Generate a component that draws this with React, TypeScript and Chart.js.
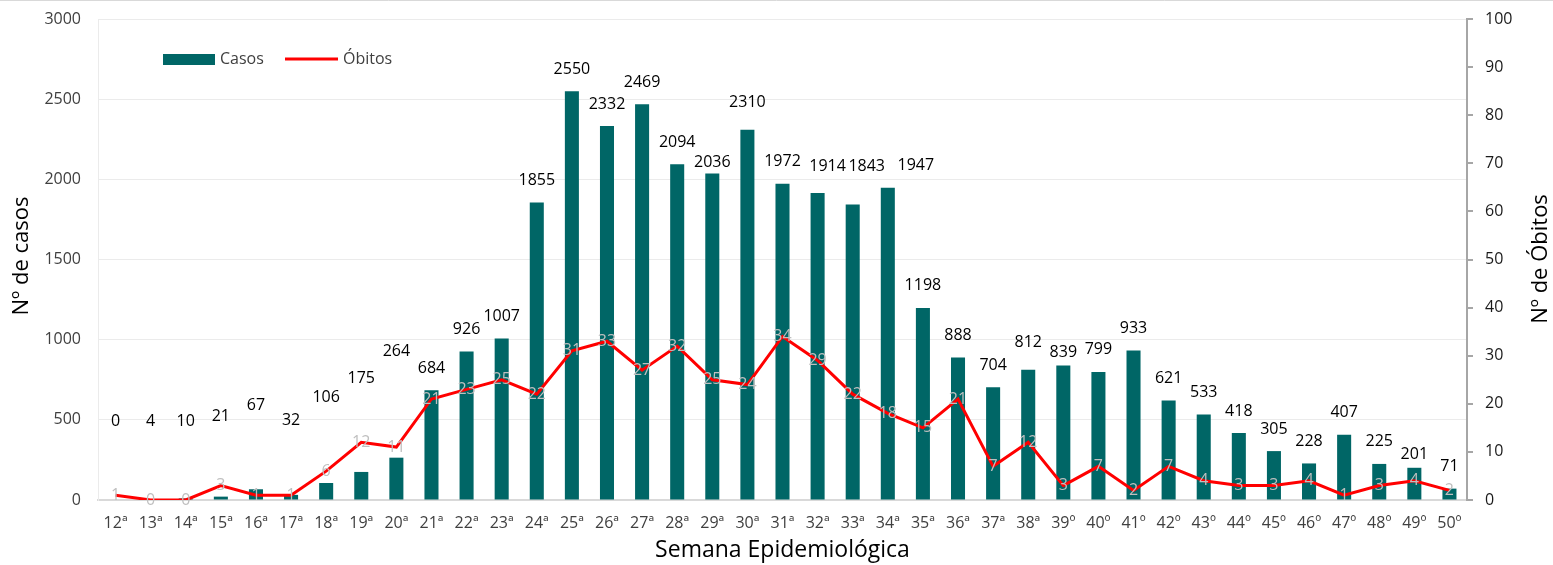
import React, { useEffect, useRef } from 'react';
import { Chart, registerables } from 'chart.js';

Chart.register(...registerables);

const weeks = [
  '12ª', '13ª', '14ª', '15ª', '16ª', '17ª', '18ª', '19ª', '20ª', '21ª',
  '22ª', '23ª', '24ª', '25ª', '26ª', '27ª', '28ª', '29ª', '30ª', '31ª',
  '32ª', '33ª', '34ª', '35ª', '36ª', '37ª', '38ª', '39º', '40º', '41º',
  '42º', '43º', '44º', '45º', '46º', '47º', '48º', '49º', '50º',
];

const casos = [
  0, 4, 10, 21, 67, 32, 106, 175, 264, 684,
  926, 1007, 1855, 2550, 2332, 2469, 2094, 2036, 2310, 1972,
  1914, 1843, 1947, 1198, 888, 704, 812, 839, 799, 933,
  621, 533, 418, 305, 228, 407, 225, 201, 71,
];

const obitos = [
  1, 0, 0, 3, 1, 1, 6, 12, 11, 21,
  23, 25, 22, 31, 33, 27, 32, 25, 24, 34,
  29, 22, 18, 15, 21, 7, 12, 3, 7, 2,
  7, 4, 3, 3, 4, 1, 3, 4, 2,
];

const FONT = '"Open Sans", sans-serif';
const TEAL = '#006666';
const RED = '#ff0000';

// label lift (px above bar top) for manually placed labels in the original
const barLabelLift: Record<number, number> = {
  0: 79, 1: 78, 2: 77, 3: 80, 4: 84, 5: 74, 6: 86, 7: 94, 8: 106,
  17: 11, 18: 27, 20: 27, 21: 38, 26: 27, 27: 13, 37: 13,
};
// horizontal nudges of manually moved labels
const barLabelNudge: Record<number, number> = { 20: 10, 21: 14, 22: 28 };
const DEFAULT_LIFT = 22;

const overlay = {
  id: 'overlay',
  beforeDraw(chart: any) {
    const ctx = chart.ctx;
    ctx.save();
    ctx.fillStyle = '#ffffff';
    ctx.fillRect(0, 0, chart.width, chart.height);
    ctx.strokeStyle = '#d9d9d9';
    ctx.lineWidth = 1;
    ctx.beginPath();
    ctx.moveTo(0, 0.5);
    ctx.lineTo(chart.width, 0.5);
    ctx.stroke();
    ctx.restore();
  },
  afterDatasetsDraw(chart: any) {
    const ctx = chart.ctx;
    const lineMeta = chart.getDatasetMeta(0);
    const barMeta = chart.getDatasetMeta(1);
    ctx.save();
    ctx.font = `16px ${FONT}`;
    ctx.textAlign = 'center';
    ctx.textBaseline = 'middle';
    ctx.fillStyle = '#000000';
    barMeta.data.forEach((el: any, i: number) => {
      const lift = barLabelLift[i] ?? DEFAULT_LIFT;
      const nudge = barLabelNudge[i] ?? 0;
      ctx.fillText(String(casos[i]), el.x + nudge, el.y - lift);
    });
    ctx.fillStyle = '#bfbfbf';
    lineMeta.data.forEach((pt: any, i: number) => {
      ctx.fillText(String(obitos[i]), pt.x, pt.y);
    });

    // legend
    ctx.fillStyle = TEAL;
    ctx.fillRect(163, 54, 52, 11);
    ctx.textAlign = 'left';
    ctx.fillStyle = '#404040';
    ctx.fillText('Casos', 220, 59.5);
    ctx.strokeStyle = RED;
    ctx.lineWidth = 3;
    ctx.beginPath();
    ctx.moveTo(285, 59);
    ctx.lineTo(338, 59);
    ctx.stroke();
    ctx.fillText('Óbitos', 343, 59.5);

    // titles
    ctx.fillStyle = '#000000';
    ctx.textAlign = 'center';
    const area = chart.chartArea;
    ctx.font = `23px ${FONT}`;
    ctx.fillText('Semana Epidemiológica', (area.left + area.right) / 2, 550);
    ctx.font = `22px ${FONT}`;
    ctx.save();
    ctx.translate(22, 256);
    ctx.rotate(-Math.PI / 2);
    ctx.fillText('Nº de casos', 0, 0);
    ctx.restore();
    ctx.save();
    ctx.translate(1541, 259);
    ctx.rotate(-Math.PI / 2);
    ctx.fillText('Nº de Óbitos', 0, 0);
    ctx.restore();
    ctx.restore();
  },
};

export default function App() {
  const ref = useRef<HTMLCanvasElement | null>(null);

  useEffect(() => {
    document.body.style.margin = '0';
    const canvas = ref.current;
    if (!canvas) return;
    const chart = new Chart(canvas, {
      type: 'bar',
      data: {
        labels: weeks,
        datasets: [
          {
            type: 'line',
            label: 'Óbitos',
            data: obitos,
            yAxisID: 'y1',
            borderColor: RED,
            backgroundColor: RED,
            borderWidth: 3,
            pointRadius: 0,
            tension: 0,
            order: 0,
          } as any,
          {
            type: 'bar',
            label: 'Casos',
            data: casos,
            yAxisID: 'y',
            backgroundColor: TEAL,
            barPercentage: 0.4,
            categoryPercentage: 1,
            order: 1,
          } as any,
        ],
      },
      options: {
        responsive: false,
        animation: false,
        layout: { padding: { top: 19, left: 0, right: 0, bottom: 0 } },
        plugins: {
          legend: { display: false },
          tooltip: { enabled: false },
        },
        scales: {
          x: {
            grid: { display: false, drawTicks: false },
            border: { display: true, color: '#d9d9d9', width: 2 },
            ticks: {
              font: { family: FONT, size: 16 },
              color: '#404040',
              padding: 14,
              maxRotation: 0,
              autoSkip: false,
            },
            afterFit: (s: any) => { s.height = 65; },
          },
          y: {
            position: 'left',
            min: 0,
            max: 3000,
            ticks: {
              stepSize: 500,
              font: { family: FONT, size: 16 },
              color: '#404040',
              padding: 17,
              callback: (v: any) => String(v),
            },
            grid: { color: '#ebebeb', lineWidth: 1, drawTicks: false },
            border: { display: true, color: '#ebebeb', width: 1 },
            afterFit: (s: any) => { s.width = 98; s.paddingTop = 0; s.paddingBottom = 0; },
          },
          y1: {
            position: 'right',
            min: 0,
            max: 100,
            ticks: {
              stepSize: 10,
              font: { family: FONT, size: 16 },
              color: '#1a1a1a',
              padding: 12,
              callback: (v: any) => String(v),
            },
            grid: {
              drawOnChartArea: false,
              drawTicks: true,
              tickLength: 6,
              color: '#a6a6a6',
              lineWidth: 2,
            },
            border: { display: true, color: '#a6a6a6', width: 2 },
            afterFit: (s: any) => { s.width = 86; s.paddingTop = 0; s.paddingBottom = 0; },
          },
        },
      } as any,
      plugins: [overlay],
    });
    return () => chart.destroy();
  }, []);

  return (
    <canvas
      ref={ref}
      width={1553}
      height={565}
      style={{ display: 'block', width: 1553, height: 565 }}
    />
  );
}
